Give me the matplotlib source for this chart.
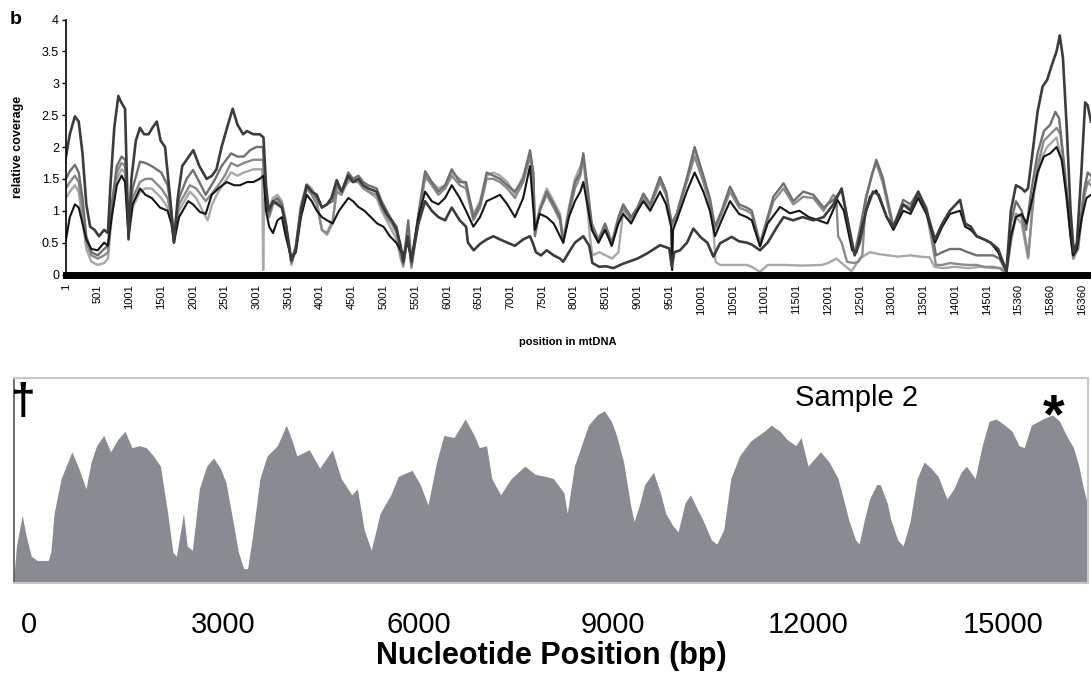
import matplotlib
matplotlib.use("Agg")
import matplotlib.pyplot as plt
from matplotlib.ticker import FuncFormatter

plt.rcParams['font.family'] = ['Liberation Sans', 'DejaVu Sans']

# === top panel: relative coverage, x is row index (labels give mtDNA position) ===
tick_idx = list(range(0, 16001, 500))
tick_lbl = [str(p) for p in range(1, 14502, 500)] + ['15360', '15860', '16360']

# dark grey sample
d_pos = [0, 60, 140, 200, 260, 320, 380, 450, 520, 600, 660, 700, 760, 824, 870, 930, 960, 985,
         1030, 1100, 1165, 1230, 1300, 1360, 1430, 1490, 1560, 1640, 1700, 1760, 1830, 1900, 2005,
         2100, 2215, 2300, 2370, 2450, 2550, 2625, 2700, 2790, 2850, 2950, 3050, 3110,
         3150, 3190, 3260, 3330, 3400, 3460, 3550, 3620, 3700, 3790, 3870, 3950, 4030, 4110, 4180,
         4263, 4340, 4446, 4520, 4604, 4680, 4760, 4892, 4970, 5050, 5130, 5207, 5270, 5312,
         5380, 5440, 5550, 5655, 5760, 5865, 5970, 6075, 6200, 6300, 6330, 6420, 6520, 6625, 6730,
         6835, 6950, 7070, 7200, 7307, 7350, 7400, 7480, 7570, 7680, 7780, 7830, 7920, 8015, 8147,
         8240, 8290, 8400, 8500, 8620, 8775, 9000, 9150, 9355, 9500, 9540, 9580, 9670, 9780, 9880,
         10000, 10100, 10195, 10300, 10483, 10600, 10720,
         10800, 10930, 11050, 11200, 11300, 11450, 11600, 11770, 11930, 12085, 12215, 12300, 12420,
         12500, 12600, 12710, 12800, 12925, 13030, 13185, 13300,
         13420, 13550, 13685, 13800, 13920, 14080, 14160, 14250, 14340, 14460, 14560, 14680, 14810,
         14880, 14960, 15050, 15100, 15150, 15220, 15300, 15380, 15450, 15530, 15600, 15650, 15700,
         15760, 15820, 15870, 15920, 15990, 16050, 16090, 16142]
d_val = [1.85, 2.2, 2.48, 2.4, 1.9, 1.1, 0.75, 0.7, 0.6, 0.7, 0.65, 1.4, 2.3, 2.8, 2.7, 2.6, 1.5, 0.55,
         1.5, 2.1, 2.3, 2.2, 2.2, 2.3, 2.4, 2.1, 2.0, 1.2, 0.5, 1.2, 1.7, 1.8, 1.95,
         1.7, 1.5, 1.55, 1.65, 2.0, 2.35, 2.6, 2.35, 2.2, 2.25, 2.2, 2.2, 2.15,
         1.4, 1.0, 1.15, 1.1, 1.05, 0.8, 0.22, 0.4, 1.0, 1.4, 1.3, 1.25, 1.05, 1.1, 1.2,
         1.48, 1.3, 1.55, 1.45, 1.5, 1.4, 1.35, 1.3, 1.1, 0.95, 0.85, 0.7, 0.45, 0.2,
         0.6, 0.2, 0.8, 1.15, 1.0, 0.9, 0.85, 1.05, 0.85, 0.75, 0.5, 0.38, 0.48, 0.55, 0.6,
         0.55, 0.5, 0.45, 0.55, 0.6, 0.5, 0.35, 0.3, 0.38, 0.3, 0.25, 0.2, 0.35, 0.5, 0.6,
         0.45, 0.18, 0.12, 0.13, 0.1, 0.17, 0.25, 0.33, 0.46, 0.41, 0.12, 0.35, 0.38, 0.5, 0.72,
         0.58, 0.5, 0.28, 0.49, 0.59, 0.52, 0.5,
         0.47, 0.38, 0.5, 0.75, 0.9, 0.85, 0.9, 0.85, 0.9, 1.1, 1.35, 0.9, 0.3,
         0.5, 1.0, 1.3, 1.25, 0.9, 0.75, 1.1, 1.0,
         1.3, 1.0, 0.55, 0.8, 1.0, 1.17, 0.8, 0.75, 0.6, 0.55, 0.5, 0.4, 0.05,
         1.0, 1.4, 1.35, 1.3, 1.35, 1.9, 2.55, 2.95, 3.05, 3.3, 3.5, 3.75, 3.4,
         2.3, 1.0, 0.35, 0.5, 1.6, 2.7, 2.65, 2.4]

# black sample
k_pos = [0, 60, 140, 200, 260, 320, 400, 500, 600, 660, 720, 800, 875, 930, 960, 985, 1050, 1165,
         1250, 1350, 1480, 1600, 1660, 1700, 1780, 1925, 2000, 2110, 2200, 2295, 2400, 2530, 2650,
         2740, 2850, 2950, 3050, 3110,
         3150, 3200, 3260, 3330, 3400, 3460, 3550, 3620, 3700, 3790, 3870, 3950, 4030, 4110, 4200,
         4300, 4446, 4520, 4604, 4700, 4800, 4900, 5000, 5100, 5200, 5312,
         5380, 5440, 5550, 5655, 5760, 5865, 5970, 6075, 6200, 6300, 6415, 6520, 6625, 6730, 6835,
         6950, 7070, 7200, 7307, 7385, 7460, 7570, 7680, 7830, 7920, 8015, 8100,
         8147, 8280, 8385, 8490, 8595, 8700, 8775, 8900, 9000, 9093, 9200, 9355, 9450, 9530, 9545,
         9560, 9617, 9775, 9900, 10037, 10140, 10220, 10325, 10457, 10600, 10720,
         10800, 10930, 11050, 11245, 11400, 11550, 11700, 11850, 11990, 12150, 12250, 12380, 12450,
         12550, 12660, 12760, 12925, 13030, 13185, 13300,
         13420, 13550, 13685, 13800, 13920, 14080, 14160, 14250, 14340, 14460, 14560, 14680, 14810,
         14880, 14960, 15050, 15130, 15220, 15300, 15400, 15500, 15600, 15680, 15760, 15820, 15860,
         15920, 16000, 16070, 16142]
k_val = [0.55, 0.9, 1.1, 1.05, 0.8, 0.55, 0.4, 0.38, 0.5, 0.45, 0.9, 1.4, 1.55, 1.45, 1.0, 0.6, 1.1, 1.35,
         1.25, 1.2, 1.05, 1.0, 0.8, 0.5, 0.9, 1.15, 1.1, 0.98, 0.95, 1.25, 1.35, 1.45, 1.4,
         1.4, 1.45, 1.45, 1.5, 1.55,
         1.0, 0.75, 0.65, 0.85, 0.9, 0.6, 0.25, 0.35, 0.9, 1.25, 1.15, 1.0, 0.9, 0.85, 0.8,
         1.0, 1.2, 1.15, 1.06, 1.0, 0.9, 0.8, 0.75, 0.6, 0.5, 0.3,
         0.5, 0.25, 0.9, 1.3, 1.15, 1.1, 1.2, 1.4, 1.2, 1.0, 0.75, 0.9, 1.15, 1.2, 1.25,
         1.1, 0.9, 1.2, 1.7, 0.7, 0.95, 0.9, 0.8, 0.5, 0.9, 1.15, 1.3,
         1.45, 0.7, 0.5, 0.7, 0.45, 0.8, 0.95, 0.8, 1.0, 1.15, 1.0, 1.3, 1.1, 0.75, 0.07,
         0.7, 0.85, 1.3, 1.6, 1.3, 1.0, 0.6, 0.85, 1.15, 0.95, 0.9,
         0.85, 0.44, 0.8, 1.06, 0.96, 1.0, 0.9, 0.85, 0.8, 1.17, 1.0, 0.38, 0.35,
         0.8, 1.22, 1.32, 0.9, 0.7, 1.0, 0.95,
         1.2, 0.95, 0.5, 0.75, 0.95, 1.0, 0.75, 0.7, 0.6, 0.55, 0.5, 0.35, 0.05,
         0.6, 0.9, 0.95, 0.8, 1.2, 1.6, 1.85, 1.9, 2.0, 1.8, 1.2, 0.6, 0.3,
         0.4, 0.9, 1.2, 1.25]

# medium grey sample
g1_pos = [0, 60, 140, 200, 260, 320, 400, 500, 600, 660, 720, 800, 875, 930, 960, 985, 1050, 1165,
          1250, 1350, 1500, 1600, 1660, 1700, 1780, 1900, 2000, 2100, 2200, 2350, 2450, 2600, 2700,
          2800, 2900, 3000, 3100,
          3150, 3200, 3260, 3330, 3400, 3460, 3550, 3620, 3700, 3790, 3870, 3950, 4030, 4110, 4200,
          4263, 4340, 4446, 4520, 4604, 4680, 4760, 4892, 4970, 5050, 5130, 5207, 5270, 5312,
          5390, 5440, 5550, 5655, 5760, 5865, 5970, 6075, 6200, 6300, 6415, 6520, 6625, 6730, 6835,
          6950, 7070, 7200, 7307, 7360, 7385, 7460, 7570, 7680, 7780, 7830, 7920, 8015, 8100,
          8147, 8280, 8385, 8490, 8595, 8700, 8775, 8900, 9000, 9093, 9200, 9355, 9450, 9538, 9617,
          9775, 9900, 10037, 10140, 10220, 10325, 10457, 10600, 10720,
          10800, 10930, 11050, 11140, 11300, 11455, 11610, 11770, 11930, 12085, 12215, 12300, 12370,
          12420, 12500, 12600, 12760, 12860, 13030, 13185, 13300,
          13420, 13550, 13650, 13700, 13800, 13920, 14080, 14200, 14340, 14460, 14600, 14700, 14810,
          14880, 14960, 15050, 15120, 15200, 15300, 15400, 15500, 15580, 15640, 15700, 15800, 15860,
          15940, 16030, 16090, 16142]
g1_val = [1.5, 1.62, 1.72, 1.6, 1.2, 0.6, 0.35, 0.3, 0.4, 0.45, 1.1, 1.7, 1.85, 1.8, 1.2, 0.7, 1.35, 1.77,
          1.75, 1.7, 1.6, 1.4, 1.0, 0.6, 1.2, 1.5, 1.64, 1.45, 1.25, 1.5, 1.7, 1.9, 1.85,
          1.85, 1.95, 2.0, 2.0,
          1.2, 0.95, 1.15, 1.2, 1.1, 0.8, 0.2, 0.45, 1.05, 1.38, 1.3, 1.2, 1.05, 1.1, 1.15,
          1.4, 1.3, 1.6, 1.5, 1.55, 1.45, 1.4, 1.35, 1.15, 1.0, 0.85, 0.75, 0.4, 0.18,
          0.85, 0.15, 0.95, 1.62, 1.45, 1.3, 1.4, 1.65, 1.45, 1.45, 0.9, 1.1, 1.6, 1.55, 1.5,
          1.4, 1.3, 1.5, 1.95, 1.6, 0.6, 1.0, 1.3, 1.1, 0.9, 0.5, 1.0, 1.45, 1.6,
          1.9, 0.8, 0.55, 0.8, 0.5, 0.9, 1.1, 0.9, 1.05, 1.27, 1.1, 1.53, 1.3, 0.8, 0.95,
          1.5, 2.0, 1.55, 1.2, 0.75, 1.0, 1.38, 1.1, 1.05,
          1.0, 0.49, 0.9, 1.22, 1.43, 1.15, 1.3, 1.25, 1.05, 1.17, 1.32, 0.9, 0.49,
          0.33, 0.7, 1.22, 1.8, 1.53, 0.75, 1.17, 1.1,
          1.3, 1.05, 0.6, 0.3, 0.35, 0.4, 0.4, 0.35, 0.3, 0.3, 0.3, 0.25, 0.05,
          0.8, 1.15, 1.0, 0.7, 1.3, 1.9, 2.25, 2.35, 2.55, 2.45, 1.9, 0.9, 0.3,
          0.5, 1.3, 1.6, 1.55]

# grey sample
g2_pos = [0, 60, 140, 200, 260, 320, 400, 500, 600, 660, 720, 800, 875, 930, 960, 985, 1050, 1165,
          1250, 1350, 1500, 1600, 1660, 1700, 1780, 1950, 2050, 2200, 2400, 2500, 2600, 2700, 2800,
          2950, 3100,
          3150, 3200, 3260, 3330, 3400, 3460, 3550, 3620, 3700, 3790, 3870, 3950, 4030, 4110, 4200,
          4263, 4340, 4446, 4520, 4604, 4680, 4760, 4892, 4970, 5050, 5130, 5207, 5270, 5312,
          5390, 5440, 5550, 5655, 5760, 5865, 5970, 6075, 6200, 6300, 6415, 6520, 6625, 6730, 6835,
          6950, 7070, 7200, 7307, 7360, 7385, 7460, 7570, 7680, 7780, 7830, 7920, 8015, 8100,
          8147, 8280, 8385, 8490, 8595, 8700, 8775, 8900, 9000, 9093, 9200, 9355, 9450, 9538, 9617,
          9775, 9900, 10037, 10140, 10220, 10325, 10457, 10600, 10720,
          10800, 10930, 11050, 11140, 11300, 11455, 11610, 11770, 11930, 12085, 12130, 12160, 12215,
          12300, 12400, 12480, 12540, 12600, 12700, 12760, 12860, 13030, 13185, 13300,
          13420, 13550, 13640, 13700, 13800, 13920, 14080, 14200, 14340, 14460, 14600, 14700, 14810,
          14880, 14960, 15050, 15100, 15155, 15230, 15300, 15400, 15500, 15600, 15660, 15720, 15800,
          15860, 15940, 16030, 16090, 16142]
g2_val = [1.35, 1.45, 1.55, 1.45, 1.0, 0.5, 0.3, 0.25, 0.3, 0.35, 1.0, 1.6, 1.75, 1.7, 1.1, 0.65, 1.2, 1.45,
          1.5, 1.5, 1.35, 1.2, 0.9, 0.55, 1.1, 1.4, 1.35, 1.15, 1.4, 1.55, 1.75, 1.7, 1.75,
          1.8, 1.8,
          1.15, 0.9, 1.1, 1.15, 1.05, 0.75, 0.18, 0.4, 1.0, 1.35, 1.25, 1.1, 0.7, 0.65, 0.85,
          1.3, 1.25, 1.5, 1.45, 1.45, 1.35, 1.3, 1.25, 1.05, 0.9, 0.8, 0.65, 0.3, 0.15,
          0.7, 0.12, 0.9, 1.55, 1.4, 1.25, 1.35, 1.55, 1.4, 1.35, 0.85, 1.05, 1.5, 1.5, 1.45,
          1.35, 1.2, 1.45, 1.85, 1.5, 0.65, 1.0, 1.25, 1.05, 0.85, 0.5, 0.95, 1.35, 1.55,
          1.85, 0.75, 0.5, 0.75, 0.45, 0.85, 1.05, 0.85, 1.0, 1.2, 1.05, 1.45, 1.25, 0.75, 0.9,
          1.45, 1.85, 1.45, 1.1, 0.7, 0.95, 1.3, 1.05, 1.0,
          0.95, 0.45, 0.85, 1.15, 1.35, 1.1, 1.22, 1.2, 1.0, 1.25, 1.2, 0.6, 0.5,
          0.2, 0.18, 0.2, 0.3, 1.2, 1.6, 1.75, 1.45, 0.7, 1.1, 1.05,
          1.25, 1.0, 0.5, 0.15, 0.15, 0.18, 0.16, 0.15, 0.15, 0.12, 0.12, 0.1, 0.02,
          0.55, 0.95, 0.9, 0.6, 0.28, 1.2, 1.7, 2.1, 2.2, 2.3, 2.2, 1.7, 0.8,
          0.25, 0.4, 1.2, 1.45, 1.4]

# light grey sample
l_pos = [0, 60, 140, 200, 260, 320, 400, 500, 600, 660, 720, 800, 875, 930, 960, 985, 1050, 1165,
         1250, 1350, 1500, 1600, 1660, 1700, 1780, 1950, 2050, 2150, 2230, 2300, 2400, 2500, 2600,
         2700, 2800, 2950, 3090, 3105, 3120,
         3150, 3200, 3260, 3330, 3400, 3460, 3550, 3620, 3700, 3790, 3870, 3950, 4030, 4110, 4200,
         4263, 4340, 4446, 4520, 4604, 4680, 4760, 4892, 4970, 5050, 5130, 5207, 5270, 5312,
         5390, 5440, 5550, 5655, 5760, 5865, 5970, 6075, 6200, 6300, 6415, 6520, 6625, 6730, 6835,
         6950, 7070, 7200, 7307, 7360, 7385, 7460, 7570, 7680, 7780, 7830, 7920, 8015, 8100,
         8147, 8250, 8290, 8400, 8500, 8600, 8700, 8775, 8900, 9000, 9093, 9200, 9355, 9450, 9538,
         9617, 9775, 9900, 10037, 10140, 10195, 10230, 10300, 10480, 10720,
         10800, 10930, 11050, 11300, 11600, 11900, 12000, 12135, 12250, 12370, 12500, 12660, 12800,
         12950, 13100, 13300,
         13450, 13600, 13680, 13800, 14000, 14200, 14400, 14600, 14750, 14810,
         14880, 14960, 15050, 15150, 15250, 15350, 15450, 15600, 15700, 15800, 15870, 15950, 16050,
         16142]
l_val = [1.2, 1.3, 1.4, 1.3, 0.85, 0.4, 0.2, 0.15, 0.18, 0.25, 0.9, 1.5, 1.65, 1.6, 1.0, 0.6, 1.05, 1.3,
         1.35, 1.35, 1.2, 1.05, 0.8, 0.6, 1.0, 1.3, 1.2, 1.0, 0.85, 1.1, 1.3, 1.45, 1.6,
         1.55, 1.6, 1.65, 1.65, 0.07, 1.2,
         1.2, 1.05, 1.2, 1.25, 1.15, 0.85, 0.15, 0.45, 1.1, 1.42, 1.35, 1.15, 0.7, 0.62, 0.8,
         1.35, 1.3, 1.45, 1.5, 1.5, 1.4, 1.3, 1.2, 1.0, 0.85, 0.7, 0.55, 0.25, 0.12,
         0.65, 0.1, 0.85, 1.5, 1.45, 1.35, 1.4, 1.6, 1.5, 1.4, 0.95, 1.15, 1.55, 1.6, 1.55,
         1.45, 1.25, 1.55, 1.9, 1.55, 0.7, 1.05, 1.35, 1.15, 0.95, 0.55, 1.05, 1.5, 1.7,
         1.85, 0.6, 0.3, 0.35, 0.3, 0.25, 0.35, 1.0, 0.9, 1.05, 1.25, 1.1, 1.5, 1.3, 0.8,
         0.95, 1.5, 1.95, 1.5, 1.15, 0.7, 0.2, 0.15, 0.15, 0.15,
         0.12, 0.04, 0.15, 0.15, 0.14, 0.15, 0.18, 0.25, 0.15, 0.05, 0.25, 0.35, 0.32,
         0.3, 0.28, 0.3,
         0.28, 0.27, 0.12, 0.1, 0.12, 0.1, 0.12, 0.1, 0.1, 0.02,
         0.5, 0.9, 0.8, 0.25, 1.3, 1.8, 2.0, 2.15, 1.7, 0.8, 0.25, 0.6, 1.4,
         1.5]

# === bottom panel: Sample 2 coverage profile (height in % of panel) ===
cov_bp = [-227, -215, -190, -100, -40, 40, 130, 300, 340, 390, 500, 664, 770, 882, 960, 1045, 1155,
          1260, 1370, 1482, 1590, 1700, 1810, 1920, 2028, 2140, 2220, 2274, 2383, 2440, 2520, 2628,
          2740, 2846, 2950, 3038, 3140, 3229, 3311, 3370, 3447, 3560, 3670, 3829, 3966, 4050, 4129,
          4320, 4480, 4675, 4810, 4975, 5060, 5166, 5275, 5411, 5575, 5690, 5902, 6030, 6148, 6280,
          6393, 6550, 6721, 6860, 6939, 7050, 7130, 7266, 7430, 7640, 7800, 7960, 8077, 8242, 8293,
          8402, 8510, 8619, 8754, 8863, 8970, 9052, 9160, 9268, 9322, 9403, 9485, 9619, 9727, 9809,
          9917, 9999, 10107, 10189, 10297, 10378, 10513, 10595, 10703, 10811, 10947, 11109, 11190,
          11326, 11434, 11570, 11678, 11812, 11893, 12001, 12110, 12191, 12327, 12462, 12571, 12625,
          12733, 12787, 12869, 12949, 13057, 13112, 13220, 13274, 13382, 13464, 13572, 13680, 13788,
          13896, 14004, 14140, 14247, 14357, 14438, 14574, 14682, 14790, 14898, 15033, 15142, 15250,
          15331, 15439, 15616, 15764, 15872, 15979, 16088, 16172, 16242, 16312]
cov_h = [4, 8, 18, 33, 23, 13, 11, 11, 15, 34, 51, 64, 56, 46, 59, 67, 72,
         64, 70, 74, 66, 67, 66, 62, 57, 34, 15, 13, 34, 18, 16, 46,
         57, 61, 56, 49, 31, 15, 7, 7, 23, 51, 62, 67, 77, 70, 62,
         65, 56, 65, 51, 43, 46, 26, 16, 34, 43, 52, 55, 48, 38, 59,
         72, 71, 80, 72, 66, 67, 51, 43, 51, 57, 53, 52, 51, 44, 34,
         57, 67, 77, 82, 84, 79, 72, 59, 38, 30, 38, 48, 54, 44, 34,
         28, 25, 39, 43, 36, 31, 21, 19, 26, 51, 62, 69, 71,
         74, 77, 74, 70, 67, 71, 57, 61, 64, 59, 51, 38, 31,
         21, 19, 31, 41, 48, 48, 39, 31, 21, 18, 30, 51, 59,
         56, 52, 41, 46, 54, 57, 51, 67, 79, 80, 77, 74, 67,
         66, 77, 80, 82, 79, 72, 66, 57, 46, 38]

W, H = 1091, 674
fig = plt.figure(figsize=(W / 100, H / 100), dpi=100)

# --- top panel
ax1 = fig.add_axes([66 / W, 1 - 274.5 / H, 1 - 66 / W, 255 / H])
ax1.plot(l_pos, l_val, color='#a8a8a8', lw=1.7)
ax1.plot(g2_pos, g2_val, color='#8a8a8a', lw=1.7)
ax1.plot(g1_pos, g1_val, color='#707070', lw=1.7)
ax1.plot(k_pos, k_val, color='#151515', lw=1.5)
ax1.plot(d_pos, d_val, color='#3c3c3c', lw=1.9)
ax1.set_xlim(0, 16142)
ax1.set_ylim(0, 4)
ax1.set_yticks([0, 0.5, 1, 1.5, 2, 2.5, 3, 3.5, 4])
ax1.yaxis.set_major_formatter(FuncFormatter(lambda v, p: '%g' % v))
ax1.set_xticks(tick_idx)
ax1.set_xticklabels(tick_lbl, rotation=90, fontsize=8)
ax1.tick_params(axis='x', length=0, pad=7)
ax1.tick_params(axis='y', length=3, width=1, labelsize=9, pad=2)
for s in ['top', 'right']:
    ax1.spines[s].set_visible(False)
ax1.spines['left'].set_linewidth(1.2)
ax1.spines['bottom'].set_linewidth(5)
ax1.spines['bottom'].set_color('black')

fig.text(16 / W, 1 - 19 / H, 'b', fontsize=14, fontweight='bold', ha='center', va='center')
fig.text(18 / W, 1 - 147 / H, 'relative coverage', rotation=90, fontsize=9,
         fontweight='bold', ha='center', va='center')
fig.text(568 / W, 1 - 342 / H, 'position in mtDNA', fontsize=8, fontweight='bold',
         ha='center', va='center')

# --- bottom panel
ax2 = fig.add_axes([14 / W, 1 - 583 / H, 1074 / W, 205 / H])
ax2.fill_between(cov_bp, cov_h, 0, color='#888c92', lw=0)
ax2.set_xlim(-227, 16312)
ax2.set_ylim(0, 100)
ax2.set_yticks([])
ax2.set_xticks([0, 3000, 6000, 9000, 12000, 15000])
ax2.tick_params(axis='x', length=0, pad=20, labelsize=21)
for s in ['top', 'right', 'bottom']:
    ax2.spines[s].set_color('#c8c8c8')
    ax2.spines[s].set_linewidth(1.5)
ax2.spines['left'].set_color('#555555')
ax2.spines['left'].set_linestyle((0, (2, 1)))
ax2.spines['left'].set_linewidth(1.2)

fig.text(857 / W, 1 - 398 / H, 'Sample 2', fontsize=21, ha='center', va='center')
fig.text(1054 / W, 1 - 418 / H, '*', fontsize=40, fontweight='bold', ha='center', va='center')
fig.text(22 / W, 1 - 402 / H, '\u2020', fontsize=32, fontweight='bold', ha='center', va='center')
fig.text(551 / W, 1 - 656 / H, 'Nucleotide Position (bp)', fontsize=22, fontweight='bold',
         ha='center', va='center')

fig.savefig('out.png', dpi=100)
